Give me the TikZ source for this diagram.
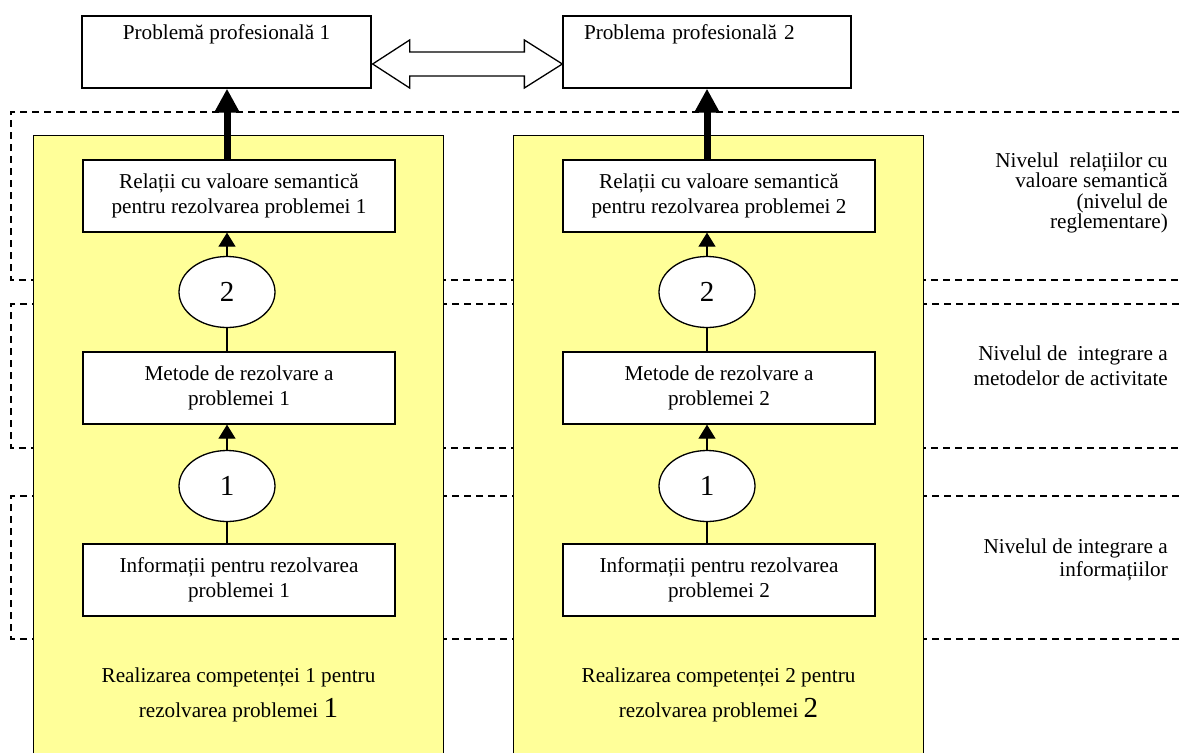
\documentclass[tikz,border=0pt]{standalone}
\usepackage{fontspec}
\setmainfont{Liberation Serif}
\usetikzlibrary{arrows.meta,shapes.geometric,calc}
\definecolor{panelyellow}{RGB}{255,255,153}
\begin{document}
\begin{tikzpicture}[x=1pt,y=-1pt,
  txt/.style={font=\fontsize{21.2}{25}\selectfont},
  probbox/.style={draw,line width=1.3pt,fill=white,minimum height=72pt,inner ysep=0pt,
    text height=23pt,text depth=49pt,txt},
  stagebox/.style={draw,line width=1.3pt,fill=white,minimum width=312pt,minimum height=72pt,
    inner sep=0pt,align=center,txt},
  stepnum/.style={draw,ellipse,line width=1.3pt,fill=white,minimum width=96pt,
    minimum height=71pt,inner sep=0pt,font=\fontsize{29}{30}\selectfont},
  panel/.style={fill=panelyellow,minimum width=409pt,minimum height=617pt,inner sep=0pt},
  levelline/.style={dash pattern=on 7pt off 5pt,line width=1.3pt},
  thin arrow/.style={line width=1.3pt,-{Triangle[width=17pt,length=14pt]}},
  thick arrow/.style={line width=7pt,-{Triangle[width=24pt,length=24pt]}},
  link/.style={line width=1.3pt},
  levellabel/.style={anchor=east,align=right,inner sep=0pt},
]
\useasboundingbox (0,0) rectangle (1179,753);

% level bands, open to the right
\draw[levelline] (1179,112) -- (11,112) -- (11,280) -- (1179,280);
\draw[levelline] (1179,304) -- (11,304) -- (11,448) -- (1179,448);
\draw[levelline] (1179,496) -- (11,496) -- (11,639) -- (1179,639);

% competence panels
\node[panel] (pan1) at (238.5,444.5) {};
\node[panel] (pan2) at (718.5,444.5) {};
\draw[link] (pan1.south west) -- (pan1.north west) -- (pan1.north east) -- (pan1.south east);
\draw[link] (pan2.south west) -- (pan2.north west) -- (pan2.north east) -- (pan2.south east);

% professional problems
\node[probbox,minimum width=289pt] (p1) at (226.5,52) {Problemă profesională 1};
\node[probbox,text width=246pt,align=left,inner xsep=21pt] (p2) at (707,52) {Problema profesională 2};

% column 1
\node[stagebox] (r1) at (239,196) {Relații cu valoare semantică\\pentru rezolvarea problemei 1};
\node[stepnum] (e2a) at (227,292) {2};
\node[stagebox] (m1) at (239,388) {Metode de rezolvare a\\problemei 1};
\node[stepnum] (e1a) at (227,486) {1};
\node[stagebox] (i1) at (239,580) {Informații pentru rezolvarea\\problemei 1};
\node[txt,align=center,inner sep=0pt] (cap1) at (238.5,695)
  {Realizarea competenței 1 pentru\\[10pt]rezolvarea problemei {\fontsize{29}{30}\selectfont 1}};

% column 2
\node[stagebox] (r2) at (719,196) {Relații cu valoare semantică\\pentru rezolvarea problemei 2};
\node[stepnum] (e2b) at (707,292) {2};
\node[stagebox] (m2) at (719,388) {Metode de rezolvare a\\problemei 2};
\node[stepnum] (e1b) at (707,486) {1};
\node[stagebox] (i2) at (719,580) {Informații pentru rezolvarea\\problemei 2};
\node[txt,align=center,inner sep=0pt] (cap2) at (718.5,695)
  {Realizarea competenței 2 pentru\\[10pt]rezolvarea problemei {\fontsize{29}{30}\selectfont 2}};

% connectors
\foreach \e/\f/\r/\m/\i/\p in {e2a/e1a/r1/m1/i1/p1, e2b/e1b/r2/m2/i2/p2}{
  \draw[thin arrow] (\e.north) -- (\e |- \r.south);
  \draw[link] (\e.south) -- (\e |- \m.north);
  \draw[thin arrow] (\f.north) -- (\f |- \m.south);
  \draw[link] (\f.south) -- (\f |- \i.north);
  \draw[thick arrow] (\e |- \r.north) -- (\e |- \p.south);
}

% two-way block arrow between the problems
\path (p1.east) ++(1,12) coordinate (dl);
\path (p2.west) ++(0,12) coordinate (dr);
\draw[line width=1.3pt,fill=white,line join=miter]
  (dl) -- ++(37,-24) -- ++(0,12) -- ($(dr)+(-38,-12)$) -- ++(0,-12) -- (dr)
  -- ++(-38,24) -- ++(0,-12) -- ($(dl)+(37,12)$) -- ++(0,12) -- cycle;

% level labels
\node[levellabel,font=\fontsize{21.2}{20.5}\selectfont] (lv3) at (1168,193)
  {Nivelul\ \ relațiilor cu\\valoare semantică\\(nivelul de\\reglementare)};
\node[levellabel,txt] (lv2) at (1168,366) {Nivelul de\ \ integrare a\\metodelor de activitate};
\node[levellabel,font=\fontsize{21.2}{23.5}\selectfont] (lv1) at (1168,560)
  {Nivelul de integrare a\\informațiilor};
\end{tikzpicture}
\end{document}
